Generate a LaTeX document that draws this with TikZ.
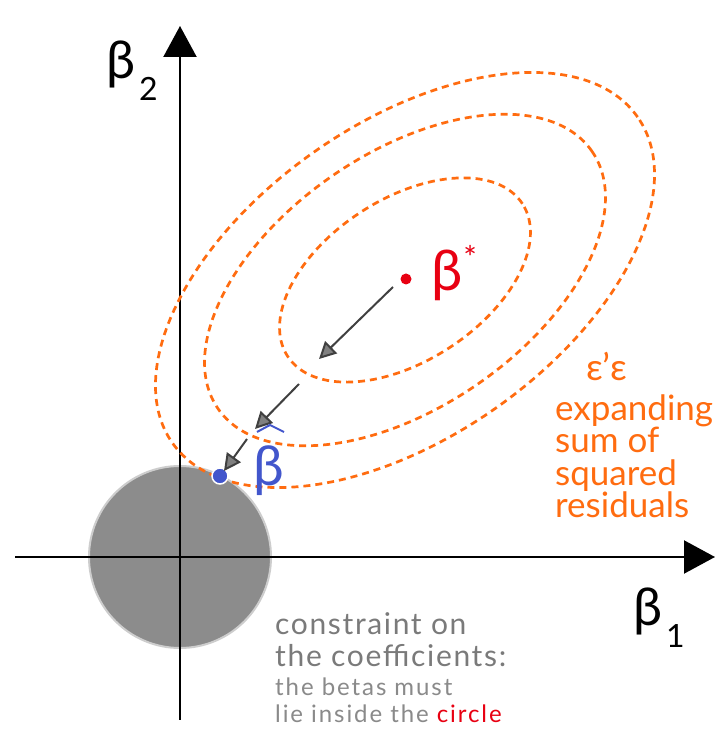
\documentclass[tikz,border=0pt]{standalone}
\usepackage{fontspec}
\setmainfont{Lato}
\usetikzlibrary{arrows.meta}
\definecolor{orng}{RGB}{255,108,16}
\definecolor{rd}{RGB}{232,0,18}
\definecolor{bl}{RGB}{66,86,204}
\definecolor{cgray}{RGB}{140,140,140}
\definecolor{cedge}{RGB}{205,205,205}
\definecolor{txtgray}{RGB}{122,122,122}
\definecolor{txtlight}{RGB}{138,138,138}
\definecolor{arrdark}{RGB}{64,64,64}
\tikzset{
  axis/.style={line width=2.2pt, black, -{Triangle[length=31pt,width=33pt]}},
  ell/.style={orng, line width=2.7pt, dash pattern=on 7pt off 5pt},
  stepper/.style={arrdark, line width=2pt, -{Triangle[length=17pt,width=17pt,fill=gray]}},
  big/.style={font=\fontsize{52}{52}\selectfont},
  lab/.style={anchor=base west, inner sep=0pt},
  orngtxt/.style={lab, text=orng, font=\fontsize{35}{35}\selectfont},
  ctxt/.style={lab, text=txtgray, font=\fontsize{30}{30}\selectfont\addfontfeature{LetterSpace=5.5}},
  ntxt/.style={lab, text=txtlight, font=\fontsize{24}{25}\selectfont\addfontfeature{LetterSpace=8}},
}
\begin{document}
\begin{tikzpicture}[x=1pt,y=1pt]
\useasboundingbox (0,0) rectangle (724,756);
\fill[white] (0,0) rectangle (724,756);
% constraint region
\node[circle, minimum size=182pt, fill=cgray, draw=cedge, line width=2pt, inner sep=0pt] (C) at (180,199) {};
% axes
\coordinate (xs) at (15,199);
\coordinate (xe) at (715,199);
\coordinate (ys) at (180,36);
\coordinate (ye) at (180,730);
\draw[axis] (xs) -- (xe);
\draw[axis] (ys) -- (ye);
% contours
\coordinate (E) at (405,476);
\draw[ell, rotate around={33:(E)}] (E) ellipse [x radius=140, y radius=81];
\draw[ell, rotate around={34.5:(E)}] (E) ellipse [x radius=227, y radius=127];
\draw[ell, rotate around={35:(E)}] (E) ellipse [x radius=284, y radius=157];
% points
\node[circle, fill=rd, minimum size=11pt, inner sep=0pt] (bstar) at (406,477) {};
\node[circle, fill=bl, draw=white, line width=1.5pt, minimum size=16pt, inner sep=0pt] (bhat) at (220,280) {};
% steps
\coordinate (a1s) at (393,469);
\coordinate (a1e) at (319,397);
\coordinate (a2s) at (299,372);
\coordinate (a2e) at (255,327);
\coordinate (a3s) at (247,317);
\coordinate (a3e) at (224,285);
\draw[stepper] (a1s) -- (a1e);
\draw[stepper] (a2s) -- (a2e);
\draw[stepper] (a3s) -- (a3e);
% labels
\node[lab, text=rd, font=\fontsize{56}{56}\selectfont] (lstar) at (431,465) {β\hspace{1pt}\raisebox{21pt}{\fontsize{32}{32}\selectfont *}};
\node[lab, text=bl, font=\fontsize{55}{55}\selectfont] (lhat) at (253,270) {β};
\coordinate (h1) at (257,324);
\coordinate (h2) at (270,331);
\coordinate (h3) at (284,324);
\draw[bl, line width=2pt] (h1) -- (h2) -- (h3);
\node[big, lab] (l2) at (106,677) {β\hspace{4pt}\raisebox{-22pt}{\fontsize{32}{32}\selectfont 2}};
\node[big, lab] (l1) at (633,130) {β\hspace{4pt}\raisebox{-22pt}{\fontsize{32}{32}\selectfont 1}};
\node[lab, text=orng, font=\fontsize{37}{37}\selectfont] (eps) at (586,375) {ε’ε};
\node[orngtxt] (s1) at (555,335) {expanding};
\node[orngtxt] (s2) at (555,303) {sum of};
\node[orngtxt] (s3) at (555,270) {squared};
\node[orngtxt] (s4) at (555,238) {residuals};
\node[ctxt] (c1) at (275,121) {constraint on};
\node[ctxt] (c2) at (275,89) {the coefficients:};
\node[ntxt] (n1) at (275,60) {the betas must};
\node[ntxt] (n2) at (275,34) {lie inside the \textcolor{rd}{circle}};
\end{tikzpicture}
\end{document}
